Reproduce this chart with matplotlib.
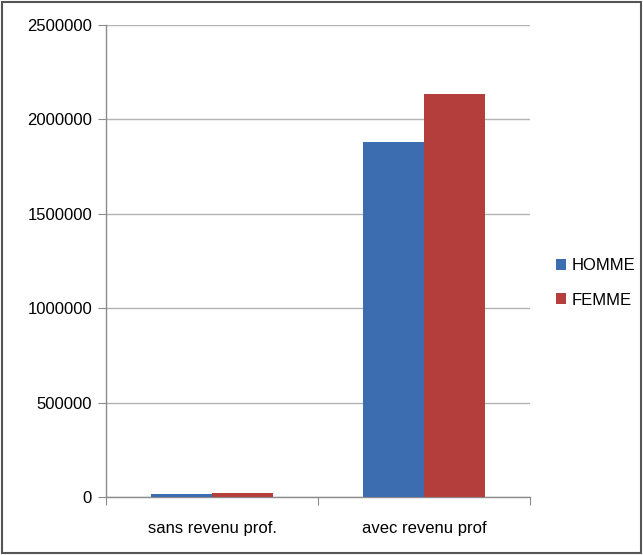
import matplotlib.pyplot as plt
import matplotlib.patches as mpatches
import numpy as np

# Data
categories = ['sans revenu prof.', 'avec revenu prof']
homme = [17000, 1880000]
femme = [23000, 2136000]
series_names = ['HOMME', 'FEMME']
yticks = [0, 500000, 1000000, 1500000, 2000000, 2500000]

blue = '#3d6db1'
red = '#b43e3b'
axis_grey = '#8c8c8c'

plt.rcParams['font.family'] = ['Liberation Sans', 'DejaVu Sans']

fig = plt.figure(figsize=(6.43, 5.55), dpi=100)
ax = fig.add_axes([106 / 643, 58 / 555, 424 / 643, 472 / 555])

x = np.arange(len(categories))
w = 1 / 3.5
ax.bar(x - w / 2, homme, w, color=blue, label=series_names[0], zorder=3)
ax.bar(x + w / 2, femme, w, color=red, label=series_names[1], zorder=3)

ax.set_xlim(-0.5, len(categories) - 0.5)
ax.set_ylim(0, 2500000)
ax.set_yticks(yticks)
ax.set_yticklabels([str(v) for v in yticks])
ax.yaxis.grid(True, color='#b3b3b3', linewidth=1)
ax.set_axisbelow(True)

# category labels between boundary ticks
ax.set_xticks(np.arange(len(categories) + 1) - 0.5)
ax.set_xticklabels([])
ax.set_xticks(x, minor=True)
ax.set_xticklabels(categories, minor=True)
ax.tick_params(axis='x', which='minor', length=0, pad=17, labelsize=12)
ax.tick_params(axis='x', which='major', length=6, color=axis_grey, direction='out')
ax.tick_params(axis='y', length=6, color=axis_grey, pad=4, labelsize=12)

for s in ['top', 'right']:
    ax.spines[s].set_visible(False)
for s in ['left', 'bottom']:
    ax.spines[s].set_color(axis_grey)
    ax.spines[s].set_linewidth(1)

ax.legend(loc='center left', bbox_to_anchor=(549 / 643, 272 / 555),
          bbox_transform=fig.transFigure, frameon=False, fontsize=12,
          handlelength=0.6, handleheight=0.6, handletextpad=0.35,
          labelspacing=1.15, borderaxespad=0)

# outer chart border
fig.patches.append(mpatches.Rectangle((0.003, 0.003), 0.994, 0.994,
                                      transform=fig.transFigure, fill=False,
                                      edgecolor='#555555', linewidth=1.5))

fig.savefig('out.png', dpi=100)
